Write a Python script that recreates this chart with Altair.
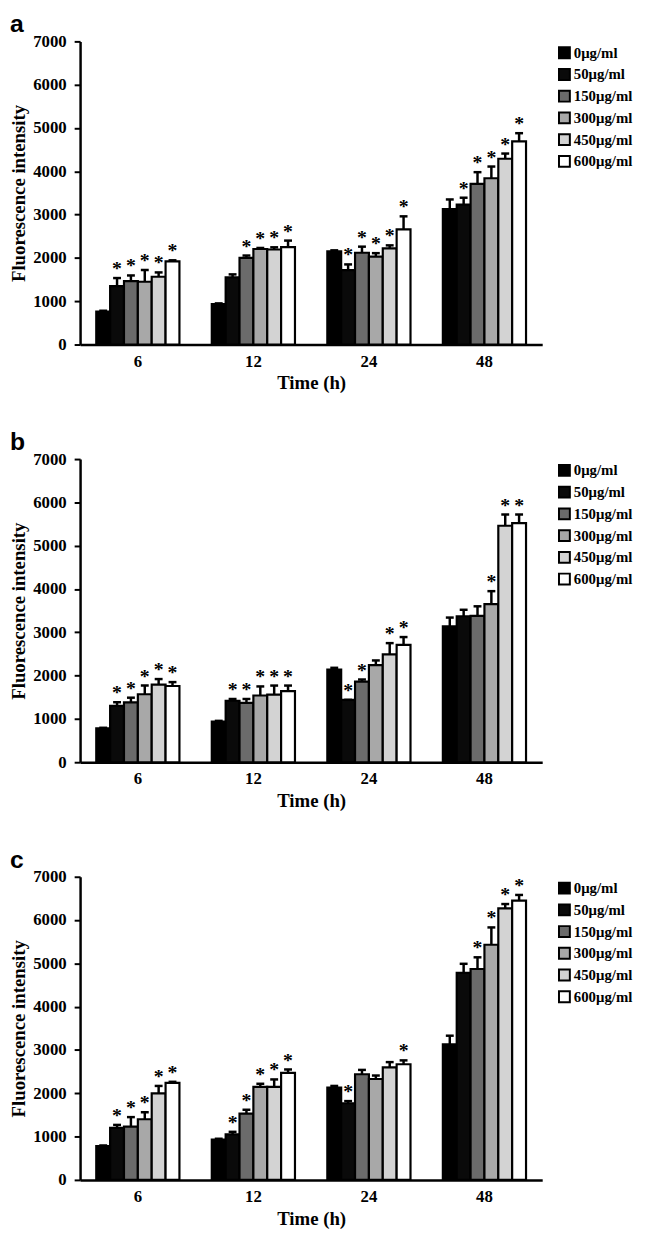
import altair as alt
import pandas as pd

times = ["6", "12", "24", "48"]
concs = ["0μg/ml", "50μg/ml", "150μg/ml", "300μg/ml", "450μg/ml", "600μg/ml"]
fills = ["#000000", "#0a0a0a", "#6b6b6b", "#a8a8a8", "#d3d3d3", "#ffffff"]

# Panel a: means per time point (6 concentrations each), upper error, significance
a_mean_6 = [760, 1350, 1465, 1450, 1565, 1920]
a_mean_12 = [935, 1550, 2000, 2205, 2195, 2250]
a_mean_24 = [2150, 1720, 2120, 2030, 2220, 2660]
a_mean_48 = [3130, 3230, 3710, 3840, 4290, 4690]
a_err_6 = [20, 185, 130, 270, 100, 25]
a_err_12 = [15, 70, 55, 25, 50, 150]
a_err_24 = [25, 130, 140, 80, 70, 300]
a_err_48 = [220, 160, 270, 270, 120, 190]
a_star_6 = [0, 1, 1, 1, 1, 1]
a_star_12 = [0, 0, 1, 1, 1, 1]
a_star_24 = [0, 1, 1, 1, 1, 1]
a_star_48 = [0, 1, 1, 1, 1, 1]

# Panel b
b_mean_6 = [780, 1300, 1380, 1570, 1790, 1760]
b_mean_12 = [940, 1420, 1370, 1540, 1560, 1640]
b_mean_24 = [2140, 1440, 1860, 2240, 2490, 2710]
b_mean_48 = [3140, 3370, 3380, 3650, 5460, 5520]
b_err_6 = [15, 85, 110, 200, 130, 90]
b_err_12 = [15, 40, 90, 210, 210, 130]
b_err_24 = [40, 0, 50, 110, 260, 180]
b_err_48 = [200, 150, 220, 300, 260, 200]
b_star_6 = [0, 1, 1, 1, 1, 1]
b_star_12 = [0, 1, 1, 1, 1, 1]
b_star_24 = [0, 1, 1, 0, 1, 1]
b_star_48 = [0, 0, 0, 1, 1, 1]

# Panel c
c_mean_6 = [780, 1200, 1230, 1400, 2000, 2240]
c_mean_12 = [930, 1050, 1530, 2150, 2150, 2470]
c_mean_24 = [2130, 1770, 2440, 2330, 2600, 2670]
c_mean_48 = [3130, 4780, 4870, 5430, 6270, 6450]
c_err_6 = [15, 70, 220, 160, 170, 25]
c_err_12 = [20, 60, 90, 70, 170, 80]
c_err_24 = [40, 50, 100, 80, 120, 90]
c_err_48 = [200, 210, 270, 400, 100, 130]
c_star_6 = [0, 1, 1, 1, 1, 1]
c_star_12 = [0, 1, 1, 1, 1, 1]
c_star_24 = [0, 1, 0, 0, 0, 1]
c_star_48 = [0, 0, 1, 1, 1, 1]

SERIF = "Liberation Serif"


def build_df(means, errs, stars):
    rows = []
    for t, m_list, e_list, s_list in zip(times, means, errs, stars):
        for c, m, e, s in zip(concs, m_list, e_list, s_list):
            rows.append({"time": t, "conc": c, "value": m, "top": m + e, "star": s})
    return pd.DataFrame(rows)


def panel(letter, df):
    base = alt.Chart(df).encode(
        x=alt.X(
            "time:N",
            sort=times,
            scale=alt.Scale(paddingInner=0.28, paddingOuter=0.14),
            axis=alt.Axis(title="Time (h)", labelAngle=0, ticks=False,
                          labelPadding=9, titlePadding=5),
        ),
        xOffset=alt.XOffset("conc:N", sort=concs,
                            scale=alt.Scale(paddingInner=0, paddingOuter=0)),
    )
    yscale = alt.Scale(domain=[0, 7000], nice=False)
    bars = base.mark_bar(stroke="black", strokeWidth=2.2).encode(
        y=alt.Y("value:Q", scale=yscale,
                axis=alt.Axis(values=list(range(0, 7001, 1000)), format="d",
                              title="Fluorescence intensity", grid=False,
                              labelPadding=8, titlePadding=4)),
        fill=alt.Fill("conc:N", sort=concs,
                      scale=alt.Scale(domain=concs, range=fills),
                      legend=alt.Legend(title=None)),
    )
    rule = base.mark_rule(color="black", strokeWidth=2.5).encode(
        y=alt.Y("value:Q", scale=yscale), y2="top:Q")
    cap = base.mark_tick(color="black", thickness=2.5, size=8, opacity=1,
                         orient="horizontal").encode(
        y=alt.Y("top:Q", scale=yscale))
    star = base.transform_filter("datum.star == 1").mark_text(
        text="*", font=SERIF, fontWeight="bold", fontSize=20,
        baseline="bottom", dy=1, color="black").encode(
        y=alt.Y("top:Q", scale=yscale))
    return alt.layer(bars, rule, cap, star).properties(
        width=468, height=307,
        title=alt.TitleParams(letter, anchor="start", frame="bounds",
                              font="Liberation Sans", fontSize=25,
                              fontWeight="bold", color="black", offset=-5),
    )


pa = panel("a", build_df([a_mean_6, a_mean_12, a_mean_24, a_mean_48],
                         [a_err_6, a_err_12, a_err_24, a_err_48],
                         [a_star_6, a_star_12, a_star_24, a_star_48]))
pb = panel("b", build_df([b_mean_6, b_mean_12, b_mean_24, b_mean_48],
                         [b_err_6, b_err_12, b_err_24, b_err_48],
                         [b_star_6, b_star_12, b_star_24, b_star_48]))
pc = panel("c", build_df([c_mean_6, c_mean_12, c_mean_24, c_mean_48],
                         [c_err_6, c_err_12, c_err_24, c_err_48],
                         [c_star_6, c_star_12, c_star_24, c_star_48]))

chart = (
    alt.vconcat(pa, pb, pc, spacing=38)
    .resolve_scale(fill="independent")
    .resolve_legend(fill="independent")
    .properties(padding={"left": 2, "top": -3, "right": 0, "bottom": 0})
    .configure_view(stroke=None)
    .configure_axis(
        domainColor="black", domainWidth=2.5, tickColor="black", tickWidth=2,
        tickSize=6, labelFont=SERIF, labelFontWeight="bold", labelFontSize=17,
        labelColor="black", titleFont=SERIF, titleFontWeight="bold",
        titleFontSize=19, titleColor="black",
    )
    .configure_legend(
        orient="right", offset=11, padding=4, symbolType="square",
        symbolSize=121, symbolStrokeColor="black", symbolStrokeWidth=2,
        symbolOpacity=1, labelFont=SERIF, labelFontWeight="bold",
        labelFontSize=15, labelColor="black", rowPadding=3, labelOffset=2,
    )
)

chart.save("out.html", embed_options={"renderer": "svg", "actions": False})
